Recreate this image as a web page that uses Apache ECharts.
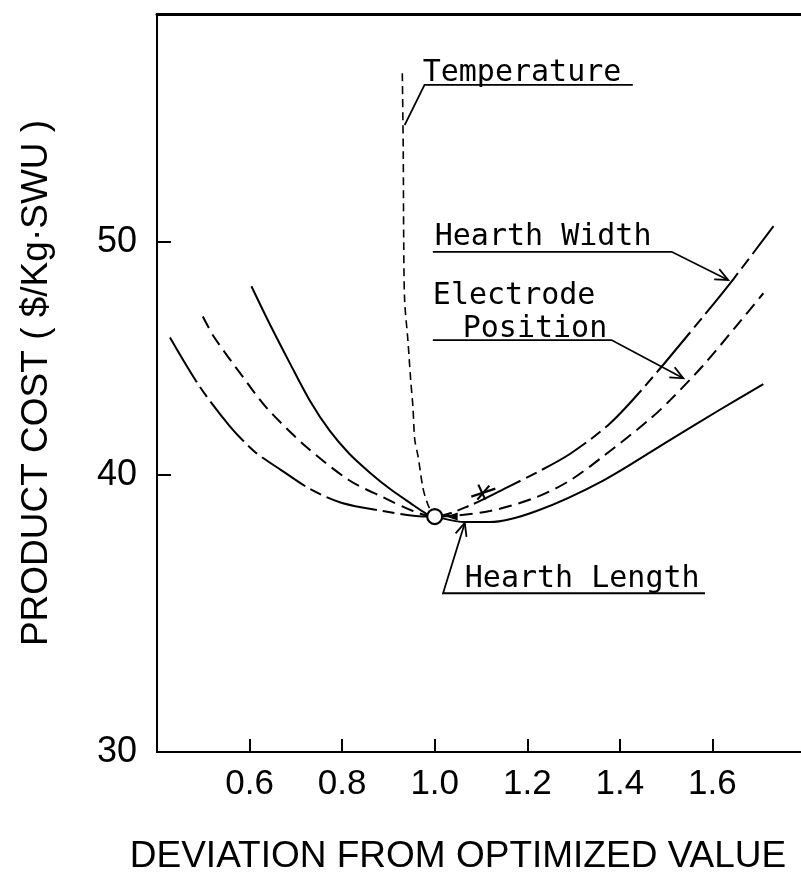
<!DOCTYPE html>
<html>
<head>
<meta charset="utf-8">
<script src="https://cdn.jsdelivr.net/npm/echarts@6/dist/echarts.min.js"></script>
<style>
  html, body { margin: 0; padding: 0; background: #fff; }
  #chart { width: 801px; height: 894px; }
</style>
</head>
<body>
<div id="chart"></div>
<script>
// Tick labels
const deviationTicks = [0.6, 0.8, 1.0, 1.2, 1.4, 1.6];
const costTicks = [30, 40, 50];

// Product cost ($/Kg·SWU) against deviation of each parameter from its optimum
const hearthWidthX = [0.428, 0.492, 0.557, 0.611, 0.669, 0.730, 0.798, 0.888, 0.975, 1.0,
                      1.076, 1.162, 1.220, 1.292, 1.378, 1.458, 1.580, 1.645, 1.732];
const hearthWidthY = [45.9, 43.8, 42.1, 41.0, 40.2, 39.5, 39.0, 38.7, 38.5, 38.5,
                      38.9, 39.6, 40.1, 40.9, 42.2, 43.9, 46.8, 48.4, 50.7];

const electrodeX = [0.499, 0.524, 0.586, 0.636, 0.723, 0.816, 0.888, 0.953, 1.0,
                    1.119, 1.220, 1.292, 1.364, 1.465, 1.508, 1.580, 1.652, 1.710];
const electrodeY = [46.8, 45.9, 44.2, 42.9, 41.2, 39.8, 39.2, 38.7, 38.5,
                    38.7, 39.2, 39.8, 40.8, 42.4, 43.2, 44.7, 46.4, 47.8];

const hearthLengthX = [0.604, 0.643, 0.687, 0.730, 0.773, 0.816, 0.860, 0.903, 0.946, 0.982, 1.0,
                       1.065, 1.119, 1.220, 1.364, 1.508, 1.616, 1.710];
const hearthLengthY = [48.1, 46.5, 44.8, 43.2, 41.9, 40.9, 40.1, 39.5, 39.0, 38.6, 38.5,
                       38.3, 38.3, 38.7, 39.8, 41.5, 42.8, 43.9];

const temperatureX = [0.930, 0.932, 0.933, 0.935, 0.942, 0.948, 0.953, 0.957, 0.964, 0.975, 0.986, 1.0];
const temperatureY = [57.4, 54.0, 50.1, 47.5, 45.8, 44.1, 42.9, 41.5, 40.8, 39.5, 38.9, 38.5];

// Optimized design point and the small cross mark beside it
const optimumX = [1.0];
const optimumY = [38.5];
const crossX = [1.105];
const crossY = [39.4];

// The cost scale is printed unevenly: the 40-50 step is drawn shorter than the
// 30-40 step, so values go through the same piecewise scale before plotting.
const costKnots = [30, 40, 50, 60];
const costKnotPos = [0, 10, 18.41, 26.64];

function costToAxis(v) {
  const last = costKnots.length - 2;
  for (let i = 0; i <= last; i++) {
    if (v <= costKnots[i + 1] || i === last) {
      const t = (v - costKnots[i]) / (costKnots[i + 1] - costKnots[i]);
      return costKnots[0] + costKnotPos[i] + t * (costKnotPos[i + 1] - costKnotPos[i]);
    }
  }
}
function axisToCost(a) {
  const p = a - costKnots[0];
  const last = costKnotPos.length - 2;
  for (let i = 0; i <= last; i++) {
    if (p <= costKnotPos[i + 1] + 1e-9 || i === last) {
      const t = (p - costKnotPos[i]) / (costKnotPos[i + 1] - costKnotPos[i]);
      return costKnots[i] + t * (costKnots[i + 1] - costKnots[i]);
    }
  }
}

// Callout labels with their leader lines (data coordinates)
const notes = [
  { texts: [{ s: 'Temperature', x: 0.974, y: 57.02 }],
    line: [[1.428, 56.89], [0.978, 56.89], [0.935, 55.13]], arrow: false },
  { texts: [{ s: 'Hearth Width', x: 1.0, y: 49.80 }],
    line: [[0.996, 49.58], [1.512, 49.58], [1.634, 48.37]], arrow: true },
  { texts: [{ s: 'Electrode', x: 0.996, y: 47.30 }, { s: 'Position', x: 1.0605, y: 45.88 }],
    line: [[0.996, 45.79], [1.382, 45.79], [1.537, 44.15]], arrow: true },
  { texts: [{ s: 'Hearth Length', x: 1.065, y: 35.92 }],
    line: [[1.584, 35.73], [1.018, 35.73], [1.065, 38.27]], arrow: true }
];

const INK = '#000';
const noteFont = '"DejaVu Sans Mono", "Liberation Mono", monospace';
const axisFont = '"Liberation Sans", Arial, sans-serif';

function curve(name, xs, ys, dash, width) {
  return {
    name, type: 'line',
    data: xs.map((x, i) => [x, costToAxis(ys[i])]),
    smooth: 0.3,
    showSymbol: false, symbol: 'none', silent: true, z: 2,
    lineStyle: { color: INK, width: width || 2, type: dash, cap: 'butt' }
  };
}

const chart = echarts.init(document.getElementById('chart'), null, { renderer: 'canvas' });

chart.setOption({
  animation: false,
  backgroundColor: '#fff',
  grid: { left: 157, top: 14, right: -4, bottom: 142, containLabel: false, outerBoundsMode: 'none' },
  xAxis: [{
    type: 'value', min: 0.4, max: 1.8, interval: 0.2, position: 'bottom',
    axisLine: { show: true, onZero: false, lineStyle: { color: INK, width: 2 } },
    axisTick: { show: true, inside: true, length: 13, customValues: deviationTicks,
                lineStyle: { color: INK, width: 2 } },
    axisLabel: { customValues: deviationTicks, formatter: v => v.toFixed(1), margin: 15,
                 fontSize: 35, fontFamily: axisFont, color: INK },
    splitLine: { show: false },
    name: 'DEVIATION FROM OPTIMIZED VALUE', nameLocation: 'middle', nameGap: 86,
    nameTextStyle: { fontSize: 37, fontFamily: axisFont, color: INK, padding: [0, 46, 0, 0] }
  }, {
    type: 'value', min: 0.4, max: 1.8, position: 'top',
    axisLine: { show: true, onZero: false, lineStyle: { color: INK, width: 3 } },
    axisTick: { show: false }, axisLabel: { show: false }, splitLine: { show: false }
  }],
  yAxis: {
    type: 'value', min: 30, max: costToAxis(60), position: 'left',
    axisLine: { show: true, onZero: false, lineStyle: { color: INK, width: 2 } },
    axisTick: { show: true, inside: true, length: 14,
                customValues: costTicks.slice(1).map(costToAxis),
                lineStyle: { color: INK, width: 2 } },
    axisLabel: { customValues: costTicks.map(costToAxis),
                 formatter: v => String(Math.round(axisToCost(v))),
                 margin: 20, fontSize: 36, fontFamily: axisFont, color: INK },
    splitLine: { show: false },
    name: 'PRODUCT COST ( $/Kg·SWU )', nameLocation: 'middle', nameGap: 102,
    nameTextStyle: { fontSize: 37, fontFamily: axisFont, color: INK }
  },
  series: [
    curve('Hearth Width', hearthWidthX, hearthWidthY, [52, 6, 12, 6]),
    curve('Electrode Position', electrodeX, electrodeY, [13, 7]),
    curve('Hearth Length', hearthLengthX, hearthLengthY, 'solid'),
    curve('Temperature', temperatureX, temperatureY, [8, 5], 1.6),
    {
      name: 'Optimum', type: 'scatter', silent: true, z: 5,
      data: optimumX.map((x, i) => [x, costToAxis(optimumY[i])]),
      symbol: 'circle', symbolSize: 15,
      itemStyle: { color: '#fff', borderColor: INK, borderWidth: 2.2, opacity: 1 }
    },
    {
      name: 'Marks', type: 'custom', silent: true, z: 6, clip: false,
      data: crossX.map((x, i) => [x, costToAxis(crossY[i])]),
      encode: { x: 0, y: 1 },
      renderItem(params, api) {
        const c = api.coord([api.value(0), api.value(1)]);
        const o = api.coord([optimumX[0], costToAxis(optimumY[0])]);
        const st = { stroke: INK, lineWidth: 2.2, fill: null };
        return {
          type: 'group',
          children: [
            { type: 'line', shape: { x1: c[0] - 12, y1: c[1] + 5, x2: c[0] + 12, y2: c[1] - 3 }, style: st },
            { type: 'line', shape: { x1: c[0] - 5, y1: c[1] - 7, x2: c[0] + 2, y2: c[1] + 8 }, style: st },
            { type: 'line', shape: { x1: c[0] - 6, y1: c[1] + 8, x2: c[0] + 6, y2: c[1] - 6 }, style: st },
            { type: 'polygon', shape: { points: [[o[0] + 11, o[1]], [o[0] + 23, o[1] - 4], [o[0] + 23, o[1] + 4]] },
              style: { fill: INK } }
          ]
        };
      }
    },
    {
      name: 'Callouts', type: 'custom', silent: true, z: 4, clip: false,
      data: notes.map(n => [n.line[0][0], costToAxis(n.line[0][1])]),
      encode: { x: 0, y: 1 },
      renderItem(params, api) {
        const n = notes[params.dataIndex];
        const pts = n.line.map(p => api.coord([p[0], costToAxis(p[1])]));
        const st = { stroke: INK, lineWidth: 1.8, fill: null };
        const children = [{ type: 'polyline', shape: { points: pts }, style: st }];
        if (n.arrow) {
          const a = pts[pts.length - 2], b = pts[pts.length - 1];
          const ang = Math.atan2(b[1] - a[1], b[0] - a[0]);
          const L = 14, w = 0.42;
          children.push({
            type: 'polyline',
            shape: { points: [
              [b[0] - L * Math.cos(ang - w), b[1] - L * Math.sin(ang - w)], b,
              [b[0] - L * Math.cos(ang + w), b[1] - L * Math.sin(ang + w)]
            ] },
            style: st
          });
        }
        n.texts.forEach(t => {
          const p = api.coord([t.x, costToAxis(t.y)]);
          children.push({
            type: 'text', x: p[0], y: p[1] + 6,
            style: { text: t.s, fill: INK, fontSize: 30, fontFamily: noteFont,
                     align: 'left', verticalAlign: 'bottom' }
          });
        });
        return { type: 'group', children };
      }
    }
  ]
});
</script>
</body>
</html>
